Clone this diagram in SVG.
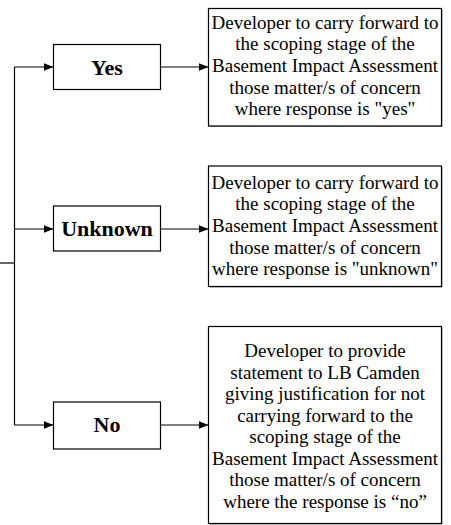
<svg xmlns="http://www.w3.org/2000/svg" width="451" height="525" viewBox="0 0 451 525">
<style>
.box{fill:#fff;stroke:#000;stroke-width:1.2}
.shadow{fill:#999;stroke:none}
.lbl{font-family:"Liberation Serif","Times New Roman",serif;font-weight:bold;font-size:22px;text-anchor:middle;fill:#000}
.txt{font-family:"Liberation Serif","Times New Roman",serif;font-size:19px;text-anchor:middle;fill:#000}
.conn{fill:none;stroke:#000;stroke-width:1.2}
</style>
<defs>
<marker id="arr" viewBox="0 0 10 8" refX="10" refY="4" markerWidth="10" markerHeight="8" markerUnits="userSpaceOnUse" orient="auto">
<path d="M0,0 L10,4 L0,8 Z" fill="#000"/>
</marker>
</defs>
<g id="connectors">
<path class="conn" d="M0,263 H14.5"/>
<path class="conn" d="M14.5,67 V425"/>
<path class="conn" d="M14.5,67 H53.5" marker-end="url(#arr)"/>
<path class="conn" d="M14.5,229 H53.5" marker-end="url(#arr)"/>
<path class="conn" d="M14.5,425 H53.5" marker-end="url(#arr)"/>
<path class="conn" d="M160.5,67 H208.5" marker-end="url(#arr)"/>
<path class="conn" d="M160.5,229 H208.5" marker-end="url(#arr)"/>
<path class="conn" d="M160.5,425 H208.5" marker-end="url(#arr)"/>
</g>
<g id="yes">
<rect class="box" x="53.5" y="44.5" width="107" height="45"/>
<text class="lbl" x="107" y="74.5">Yes</text>
</g>
<g id="unknown">
<rect class="box" x="53.5" y="206" width="107" height="45"/>
<text class="lbl" x="107" y="236">Unknown</text>
</g>
<g id="no">
<rect class="box" x="53.5" y="402" width="107" height="47"/>
<text class="lbl" x="107" y="432">No</text>
</g>
<g id="yes-action">
<rect class="shadow" x="209.5" y="9.5" width="233" height="117.5"/>
<rect class="box" x="208.5" y="8.5" width="233" height="117.5"/>
<text class="txt" x="325" y="28.6">Developer to carry forward to</text>
<text class="txt" x="325" y="50.3">the scoping stage of the</text>
<text class="txt" x="325" y="72">Basement Impact Assessment</text>
<text class="txt" x="325" y="93.7">those matter/s of concern</text>
<text class="txt" x="325" y="115.4">where response is "yes"</text>
</g>
<g id="unknown-action">
<rect class="shadow" x="209.5" y="167" width="233" height="120.5"/>
<rect class="box" x="208.5" y="166" width="233" height="120.5"/>
<text class="txt" x="325" y="188.5">Developer to carry forward to</text>
<text class="txt" x="325" y="210.2">the scoping stage of the</text>
<text class="txt" x="325" y="231.9">Basement Impact Assessment</text>
<text class="txt" x="325" y="253.6">those matter/s of concern</text>
<text class="txt" x="325" y="275.3">where response is "unknown"</text>
</g>
<g id="no-action">
<rect class="shadow" x="209.5" y="327.5" width="233" height="197"/>
<rect class="box" x="208.5" y="326.5" width="233" height="197"/>
<text class="txt" x="325" y="357">Developer to provide</text>
<text class="txt" x="325" y="378.5">statement to LB Camden</text>
<text class="txt" x="325" y="400">giving justification for not</text>
<text class="txt" x="325" y="421.5">carrying forward to the</text>
<text class="txt" x="325" y="443">scoping stage of the</text>
<text class="txt" x="325" y="464.5">Basement Impact Assessment</text>
<text class="txt" x="325" y="486">those matter/s of concern</text>
<text class="txt" x="325" y="507.5">where the response is “no”</text>
</g>
</svg>
